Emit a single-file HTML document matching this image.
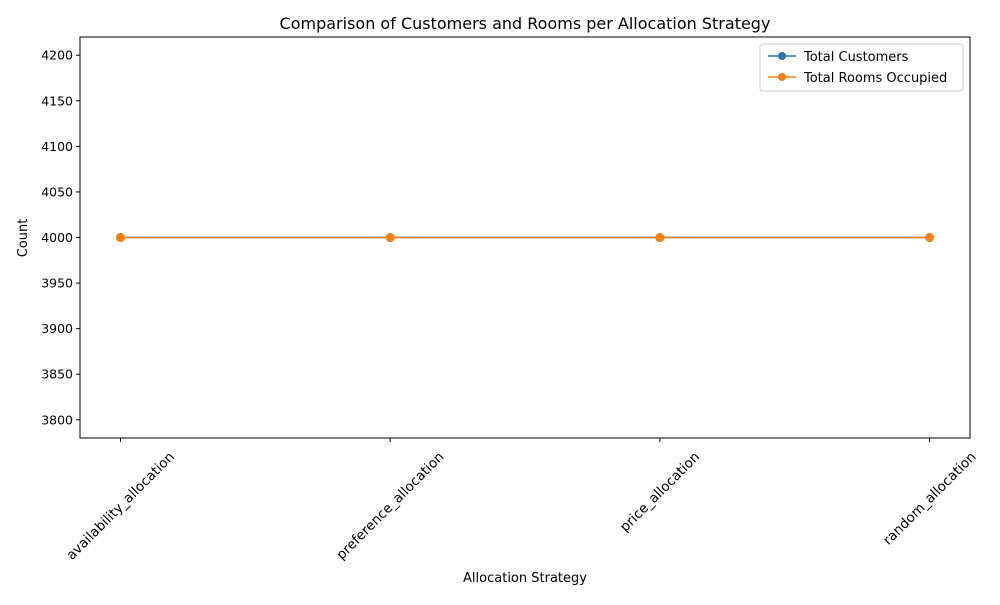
<!DOCTYPE html>
<html><head><meta charset="utf-8"><style>
body{margin:0;background:#fff;font-family:"Liberation Sans","DejaVu Sans",sans-serif;}
</style></head><body>
<svg id="chart" width="1000" height="600" xmlns="http://www.w3.org/2000/svg" font-family="'DejaVu Sans','Liberation Sans',sans-serif">
<rect width="1000" height="600" fill="#fff"/>
<text x="525" y="29" text-anchor="middle" font-size="16">Comparison of Customers and Rooms per Allocation Strategy</text>
<g id="yticks"></g><g id="xticks"></g>
<rect x="80" y="37" width="890" height="401" fill="none" stroke="#000" stroke-width="1"/>
<g id="series"></g>
<text x="525" y="582" text-anchor="middle" font-size="13">Allocation Strategy</text>
<text transform="translate(27,238) rotate(-90)" text-anchor="middle" font-size="13">Count</text>
<g>
<rect x="760" y="44" width="203" height="47" rx="3" fill="#fff" stroke="#ccc"/>
<g>
<line x1="768" y1="56" x2="796" y2="56" stroke="#1f77b4" stroke-width="1.5"/><circle cx="782" cy="56" r="4" fill="#1f77b4"/>
<text x="804" y="61" font-size="13">Total Customers</text></g>
<g>
<line x1="768" y1="77" x2="796" y2="77" stroke="#ff7f0e" stroke-width="1.5"/><circle cx="782" cy="77" r="4" fill="#ff7f0e"/>
<text x="804" y="82" font-size="13">Total Rooms Occupied</text></g>
</g>
</svg>
<script>
const categories=["availability_allocation","preference_allocation","price_allocation","random_allocation"];
const customers=[4000,4000,4000,4000];
const rooms=[4000,4000,4000,4000];
const yTicks=[3800,3850,3900,3950,4000,4050,4100,4150,4200];
const NS="http://www.w3.org/2000/svg";
const L=80,R=970,T=37,B=438,ymin=3780,ymax=4220,xmin=-0.15,xmax=categories.length-1+0.15;
const xs=i=>L+(i-xmin)/(xmax-xmin)*(R-L);
const ys=v=>B-(v-ymin)/(ymax-ymin)*(B-T);
function mk(tag,attrs,parent){const e=document.createElementNS(NS,tag);for(const k in attrs)e.setAttribute(k,attrs[k]);parent.appendChild(e);return e;}
const yg=document.getElementById('yticks');
yTicks.forEach(v=>{const y=ys(v);
mk('line',{x1:L-4,x2:L,y1:y,y2:y,stroke:'#000'},yg);
const t=mk('text',{x:L-7,y:y+4.5,'text-anchor':'end','font-size':12.5},yg);t.textContent=v;

});
const xg=document.getElementById('xticks');
categories.forEach((c,i)=>{const x=xs(i);
mk('line',{x1:x,x2:x,y1:B,y2:B+4,stroke:'#000'},xg);
const t=mk('text',{x:0,y:0,'text-anchor':'middle','font-size':13.5},xg);t.textContent=c;


const len=t.getComputedTextLength();
const cy=B+11+(len+14)*0.7071/2;
t.setAttribute('transform',`translate(${x-0.5},${cy}) rotate(-45) translate(0,5)`);});
const sg=document.getElementById('series');
[[customers,'#1f77b4','customers'],[rooms,'#ff7f0e','rooms']].forEach(([d,col,n])=>{
const g=mk('g',{},sg);


mk('polyline',{points:d.map((v,i)=>xs(i)+','+ys(v)).join(' '),fill:'none',stroke:col,'stroke-width':1.5},g);
d.forEach((v,i)=>{const c=mk('circle',{cx:xs(i),cy:ys(v),r:4.5,fill:col},g);

});});
</script>
</body></html>
